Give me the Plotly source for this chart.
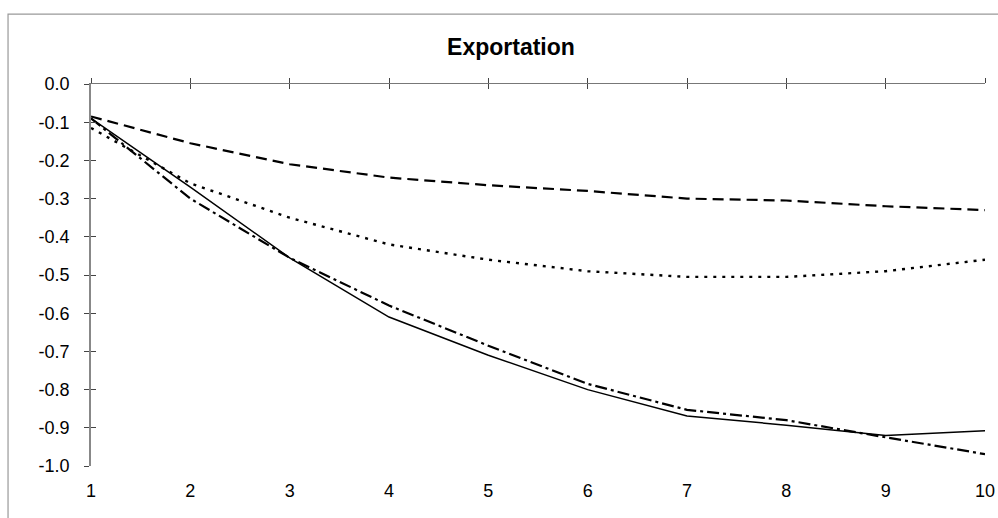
import plotly.graph_objects as go

periods = [1, 2, 3, 4, 5, 6, 7, 8, 9, 10]
series_dash = [-0.085, -0.155, -0.21, -0.245, -0.265, -0.28, -0.30, -0.305, -0.32, -0.33]
series_dot = [-0.115, -0.26, -0.35, -0.42, -0.46, -0.49, -0.505, -0.505, -0.49, -0.46]
series_solid = [-0.09, -0.27, -0.455, -0.61, -0.71, -0.80, -0.869, -0.893, -0.92, -0.908]
series_dashdot = [-0.09, -0.30, -0.455, -0.58, -0.685, -0.785, -0.853, -0.88, -0.925, -0.969]
y_ticks = [0.0, -0.1, -0.2, -0.3, -0.4, -0.5, -0.6, -0.7, -0.8, -0.9, -1.0]
y_labels = ["0.0", "-0.1", "-0.2", "-0.3", "-0.4", "-0.5", "-0.6", "-0.7", "-0.8", "-0.9", "-1.0"]

fig = go.Figure()
styles = [
    (series_dash, "11px,6px", 2.2),
    (series_dot, "3px,6px", 2.4),
    (series_solid, "solid", 1.5),
    (series_dashdot, "12px,4px,3px,4px", 2.2),
]
for ys, dash, w in styles:
    fig.add_trace(go.Scatter(x=periods, y=ys, mode="lines", cliponaxis=False,
                             line=dict(color="black", width=w, dash=dash),
                             showlegend=False, hoverinfo="skip"))

font = dict(family="Arial, Liberation Sans, sans-serif", size=18, color="black")

fig.update_layout(
    width=998, height=518,
    margin=dict(l=91, r=13, t=84, b=52, autoexpand=False),
    paper_bgcolor="white", plot_bgcolor="white",
    title=dict(text="<b>Exportation</b>", x=0.512, xanchor="center", y=0.909, yanchor="middle",
               font=dict(family="Arial, Liberation Sans, sans-serif", size=23, color="black")),
    font=font,
    xaxis=dict(range=[1, 10], tickvals=periods, ticktext=[str(p) for p in periods],
               showgrid=False, zeroline=False, showline=False, ticks="", automargin=False,
               ticklabelstandoff=12, tickfont=font),
    xaxis2=dict(range=[1, 10], overlaying="x", side="top", anchor="y", automargin=False,
                tickvals=periods, showticklabels=False, showgrid=False, zeroline=False,
                showline=True, linecolor="#777", linewidth=1.2,
                ticks="outside", ticklen=5, tickcolor="#444"),
    xaxis3=dict(range=[1, 10], overlaying="x", side="top", anchor="y", automargin=False,
                tickvals=periods, showticklabels=False, showgrid=False, zeroline=False,
                showline=False, ticks="inside", ticklen=5, tickcolor="#444"),
    yaxis=dict(range=[-1.0, 0.0], tickvals=y_ticks, ticktext=y_labels, automargin=False,
               showgrid=False, zeroline=False, showline=True, linecolor="#888", linewidth=1.5,
               ticks="outside", ticklen=5, tickcolor="#444", ticklabelstandoff=11, tickfont=font),
    yaxis2=dict(range=[-1.0, 0.0], overlaying="y", side="left", anchor="x", automargin=False,
                tickvals=y_ticks, showticklabels=False, showgrid=False, zeroline=False,
                showline=False, ticks="inside", ticklen=5, tickcolor="#444"),
    shapes=[dict(type="rect", xref="paper", yref="paper",
                 x0=-0.0928, x1=1.017, y0=-0.141, y1=1.183,
                 line=dict(color="#999", width=1.2), fillcolor="rgba(0,0,0,0)")],
)
# invisible traces to activate overlay axes
fig.add_trace(go.Scatter(x=[1], y=[0], xaxis="x2", yaxis="y", mode="markers",
                         marker=dict(opacity=0), showlegend=False, hoverinfo="skip"))
fig.add_trace(go.Scatter(x=[1], y=[0], xaxis="x3", yaxis="y2", mode="markers",
                         marker=dict(opacity=0), showlegend=False, hoverinfo="skip"))

fig.write_html("out.html", config={"displayModeBar": False},
               post_script="document.body.style.margin='0';document.body.style.overflow='hidden';")
